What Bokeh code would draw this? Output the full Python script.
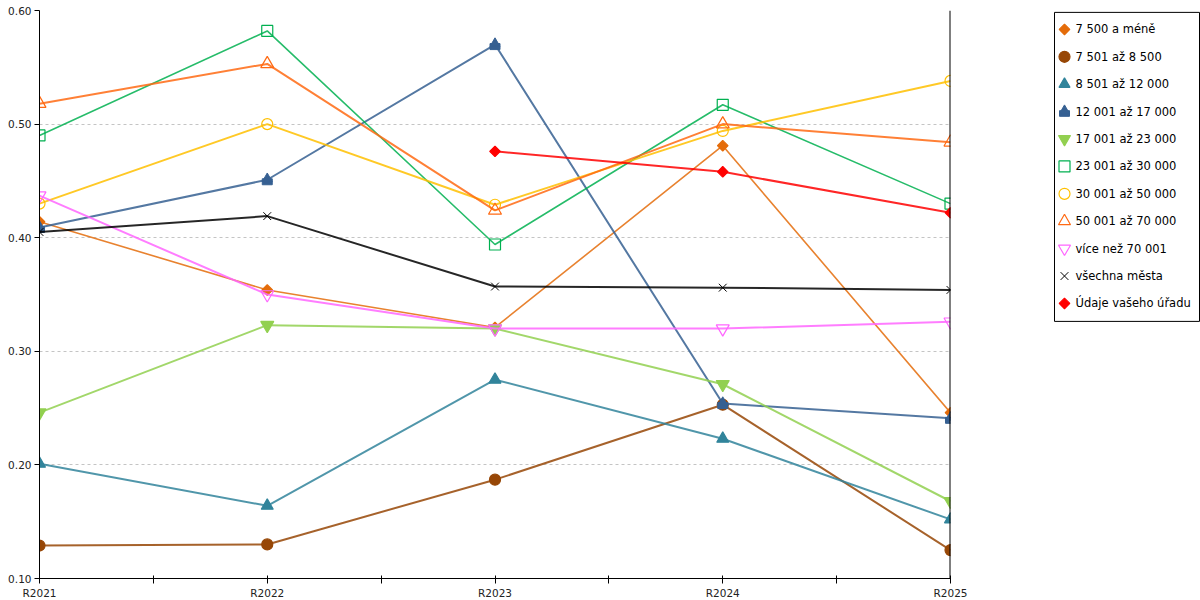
import math
from bokeh.plotting import figure
from bokeh.layouts import row
from bokeh.models import FixedTicker, PrintfTickFormatter, Range1d, Span
from bokeh.core.properties import value
from bokeh.embed import file_html
from bokeh.resources import INLINE

nan = float("nan")
years = ["R2021", "R2022", "R2023", "R2024", "R2025"]

s_do_7500 = [0.414, 0.354, 0.321, 0.481, 0.246]
s_7501_8500 = [0.129, 0.130, 0.187, 0.253, 0.125]
s_8501_12000 = [0.201, 0.164, 0.275, 0.223, 0.152]
s_12001_17000 = [0.409, 0.451, 0.570, 0.254, 0.241]
s_17001_23000 = [0.246, 0.323, 0.320, 0.271, 0.168]
s_23001_30000 = [0.490, 0.582, 0.394, 0.517, 0.430]
s_30001_50000 = [0.430, 0.500, 0.429, 0.494, 0.538]
s_50001_70000 = [0.518, 0.553, 0.424, 0.500, 0.484]
s_nad_70001 = [0.437, 0.350, 0.320, 0.320, 0.326]
s_vsechna = [0.405, 0.419, 0.357, 0.356, 0.354]
s_urad = [nan, nan, 0.476, 0.458, 0.422]

labels = ["7 500 a méně", "7 501 až 8 500", "8 501 až 12 000", "12 001 až 17 000",
          "17 001 až 23 000", "23 001 až 30 000", "30 001 až 50 000",
          "50 001 až 70 000", "více než 70 001", "všechna města",
          "Údaje vašeho úřadu"]
y_ticks = [0.1, 0.2, 0.3, 0.4, 0.5, 0.6]

xs = list(range(len(years)))
FONT = "DejaVu Sans"

FRAME_W, FRAME_H = 911, 568
Y0, Y1 = y_ticks[0], y_ticks[-1]
px = (Y1 - Y0) / FRAME_H

p = figure(frame_width=FRAME_W, frame_height=FRAME_H,
           x_range=Range1d(xs[0], xs[-1]), y_range=Range1d(Y0, Y1),
           output_backend="svg", toolbar_location=None,
           min_border_left=39, min_border_right=20, min_border_top=10,
           min_border_bottom=22)
p.outline_line_color = None
p.background_fill_color = "white"
p.extra_y_ranges = {"up": Range1d(Y0 - 1 * px, Y1 - 1 * px),
                    "dn": Range1d(Y0 + 2 * px, Y1 + 2 * px)}

# axes
p.xaxis.ticker = FixedTicker(ticks=xs, minor_ticks=[i + 0.5 for i in xs[:-1]])
p.xaxis.major_label_overrides = {i: y for i, y in zip(xs, years)}
p.xaxis.major_tick_in = 3
p.xaxis.major_tick_out = 5
p.xaxis.minor_tick_in = 3
p.xaxis.minor_tick_out = 5
p.yaxis.ticker = FixedTicker(ticks=y_ticks)
p.yaxis.formatter = PrintfTickFormatter(format="%.2f")
p.yaxis.major_tick_in = 0
p.yaxis.major_tick_out = 5
p.yaxis.minor_tick_in = 0
p.yaxis.minor_tick_out = 0
for ax in (p.xaxis, p.yaxis):
    ax.axis_line_color = "black"
    ax.major_tick_line_color = "black"
    ax.minor_tick_line_color = "black"
    ax.major_label_text_font = FONT
    ax.major_label_text_font_size = "10.5px"
    ax.major_label_text_color = "#222222"
    ax.major_label_standoff = 3
p.xgrid.grid_line_color = None
p.ygrid.ticker = FixedTicker(ticks=y_ticks)
p.ygrid.grid_line_color = "#c4c4c4"
p.ygrid.grid_line_dash = "3 3"
p.ygrid.grid_line_width = 1

p.add_layout(Span(location=xs[-1], dimension="height", line_color="black",
                  line_width=2))

# ---- legend panel (screen-like coordinates: y grows downwards) ----
LW, LH = 230, 600
pl = figure(width=LW, height=LH, output_backend="svg", toolbar_location=None,
            x_range=Range1d(0, LW), y_range=Range1d(LH, 0),
            min_border_left=0, min_border_right=0, min_border_top=0,
            min_border_bottom=0)
pl.axis.visible = False
pl.grid.grid_line_color = None
pl.outline_line_color = None

BOX_L, BOX_R, BOX_T, BOX_B = 84, 229, 2, 329
ROW0, ROW_STEP = 20, 29.0
MARK_X, TEXT_X = 94, 105
pl.quad(left=[BOX_L], right=[BOX_R], top=[BOX_T], bottom=[BOX_B],
        fill_color="white", line_color="black", line_width=1)
row_y = [ROW0 + ROW_STEP * i for i in range(len(labels))]
pl.text(x=[TEXT_X] * len(labels), y=row_y, text=labels,
        text_font=value(FONT), text_font_size="11.5px",
        text_baseline="middle", text_align="left", text_color="#000000")

idx = [0]


def series(vals, color, marker, size, filled=True, lw=2.0, mlw=1.2,
           angle=0.0, leg_size=None):
    i = idx[0]
    idx[0] += 1
    p.line(xs, vals, line_color=color, line_width=lw, line_alpha=0.85)
    kw = dict(marker=marker, line_color=color, line_width=mlw, angle=angle,
              fill_color=color if filled else None)
    p.scatter(xs, vals, size=size, **kw)
    pl.scatter([MARK_X], [row_y[i]], size=leg_size or size, **kw)


DIAMOND = math.pi / 4
series(s_do_7500, "#E46C0A", "square", 7.5, angle=DIAMOND, lw=1.6)
series(s_7501_8500, "#974706", "circle", 11)
series(s_8501_12000, "#31849B", "triangle", 12, leg_size=11)

# house-shaped marker for 12 001 - 17 000
c4 = "#366092"
i4 = idx[0]
idx[0] += 1
p.line(xs, s_12001_17000, line_color=c4, line_width=2, line_alpha=0.85)
p.rect(xs, s_12001_17000, width=10, height=6, width_units="screen",
       height_units="screen", fill_color=c4, line_color=c4, y_range_name="dn")
p.scatter(xs, s_12001_17000, marker="triangle", size=10,
          fill_color=c4, line_color=c4, y_range_name="up")
pl.rect([MARK_X], [row_y[i4] + 2], width=10, height=6, fill_color=c4,
        line_color=c4)
pl.scatter([MARK_X], [row_y[i4] - 1], marker="triangle", size=10,
           fill_color=c4, line_color=c4)

series(s_17001_23000, "#92D050", "inverted_triangle", 13, leg_size=12)
series(s_23001_30000, "#00B050", "square", 11, filled=False, lw=1.6)
series(s_30001_50000, "#FFC000", "circle", 11, filled=False)
series(s_50001_70000, "#FF6A13", "triangle", 13, filled=False, leg_size=12)
series(s_nad_70001, "#FF66FF", "inverted_triangle", 13, filled=False,
       leg_size=12)
series(s_vsechna, "#000000", "x", 11, mlw=1.0)
series(s_urad, "#FF0000", "square", 7.5, angle=DIAMOND)

layout = row(p, pl)
open("out.html", "w").write(file_html(layout, INLINE))
